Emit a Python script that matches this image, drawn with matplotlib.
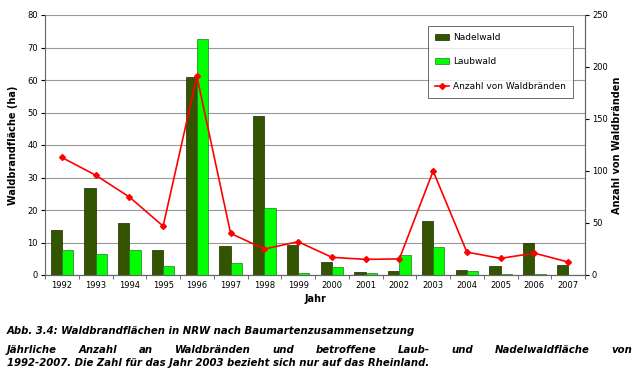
import numpy as np
import matplotlib
matplotlib.use("Agg")
import matplotlib.pyplot as plt
from matplotlib.lines import Line2D
from matplotlib.patches import Patch

years = [str(y) for y in range(1992, 2008)]
nadelwald = [14.0, 26.9, 16.1, 7.8, 60.8, 9.0, 48.8, 9.3, 3.9, 0.9, 1.1, 16.6, 1.5, 2.8, 9.8, 3.1]
laubwald = [7.8, 6.6, 7.8, 2.8, 72.7, 3.6, 20.7, 0.6, 2.5, 0.7, 6.3, 8.5, 1.3, 0.2, 0.2, 0.0]
braende = [113, 96, 75, 47, 191, 40, 25, 32, 17, 15, 15.5, 100, 22, 16, 21, 12.5]

C_NADEL = "#335500"
C_LAUB = "#00ff00"
C_LINE = "#ff0000"

fig = plt.figure(figsize=(6.4, 3.73), dpi=100)
ax = fig.add_axes([45 / 640, 1 - 275 / 373, 540 / 640, 260 / 373])
ax2 = ax.twinx()

x = np.arange(len(years))
w = 0.33
ax.bar(x - w / 2, nadelwald, w, color=C_NADEL, edgecolor="#1a2a00", linewidth=0.5, zorder=3)
ax.bar(x + w / 2, laubwald, w, color=C_LAUB, edgecolor="#227722", linewidth=0.5, zorder=3)
ax.set_xlim(-0.5, len(years) - 0.5)
ax.set_ylim(0, 80)
ax.set_yticks(range(0, 81, 10))
ax.grid(axis="y", color="#999999", linewidth=0.8, zorder=0)
ax.set_axisbelow(True)

ax2.plot(x, braende, color=C_LINE, lw=1.2, marker="D", ms=3, zorder=5)
ax2.set_ylim(0, 250)
ax2.set_yticks(range(0, 251, 50))

ax.set_xticks(x)
ax.set_xticklabels(years)
ax.set_xticks(np.arange(-0.5, len(years)), minor=True)
ax.tick_params(axis="x", which="major", length=0, labelsize=6, pad=4)
ax.tick_params(axis="x", which="minor", length=3, color="#555555")
ax.tick_params(axis="y", labelsize=6, length=3, pad=2)
ax2.tick_params(axis="y", labelsize=6, length=3, pad=2)

for a in (ax, ax2):
    a.spines["top"].set_visible(False)
    a.spines["left"].set_color("#666666")
    a.spines["right"].set_color("#666666")
    a.spines["bottom"].set_color("#666666")
ax2.spines["left"].set_visible(False)

ax.set_xlabel("Jahr", fontsize=7, fontweight="bold", labelpad=3)
ax.set_ylabel("Waldbrandfläche (ha)", fontsize=7, fontweight="bold", labelpad=7)
ax2.set_ylabel("Anzahl von Waldbränden", fontsize=7, fontweight="bold", labelpad=3)

handles = [Patch(facecolor=C_NADEL, edgecolor="#1a2a00", linewidth=0.5),
           Patch(facecolor=C_LAUB, edgecolor="#227722", linewidth=0.5),
           Line2D([0], [0], color=C_LINE, lw=1.2, marker="D", ms=3)]
leg = ax2.legend(handles, ["Nadelwald", "Laubwald", "Anzahl von Waldbränden"],
                 loc="upper right", bbox_to_anchor=(0.978, 0.958), borderaxespad=0,
                 fontsize=6.5, frameon=True, fancybox=False, edgecolor="#444444",
                 labelspacing=1.7, handlelength=1.6, handletextpad=0.4, borderpad=0.8)
leg.get_frame().set_linewidth(0.7)

# caption
cap = dict(fontsize=7.25, fontweight="bold", style="italic", family="DejaVu Sans")
fig.text(7 / 640, 1 - 331 / 373, "Abb. 3.4: Waldbrandflächen in NRW nach Baumartenzusammensetzung",
         va="center", ha="left", **cap)

# justified second line
words = "Jährliche Anzahl an Waldbränden und betroffene Laub- und Nadelwaldfläche von".split()
left, right = 7 / 640, 632 / 640
y2 = 1 - 350 / 373
fig.canvas.draw()
renderer = fig.canvas.get_renderer()
texts = [fig.text(0, y2, wd, va="center", ha="left", **cap) for wd in words]
widths = [t.get_window_extent(renderer).width / fig.bbox.width for t in texts]
gap = (right - left - sum(widths)) / (len(words) - 1)
pos = left
for t, wd in zip(texts, widths):
    t.set_x(pos)
    pos += wd + gap

fig.text(7 / 640, 1 - 363 / 373,
         "1992-2007. Die Zahl für das Jahr 2003 bezieht sich nur auf das Rheinland.",
         va="center", ha="left", **cap)

fig.savefig("out.png", dpi=100)
